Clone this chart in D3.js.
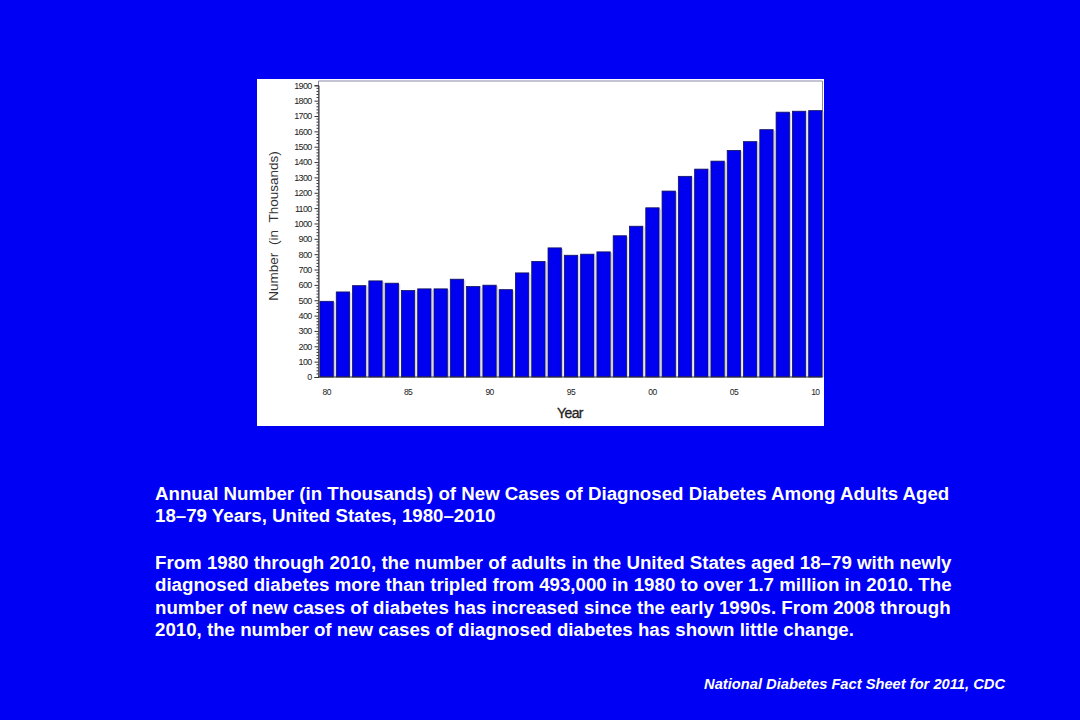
<!DOCTYPE html>
<html>
<head>
<meta charset="utf-8">
<script src="https://cdn.jsdelivr.net/npm/d3@7"></script>
<style>
  html, body { margin: 0; padding: 0; background: #0000f5; }
  svg { display: block; }
</style>
</head>
<body>
<div id="chart"></div>
<script>
// data (thousands of new cases)
const years = d3.range(1980, 2011);
const cases = [493, 554, 595, 626, 611, 563, 574, 574, 637, 589, 598, 569, 678, 753,
  841, 793, 800, 815, 920, 982, 1102, 1211, 1307, 1354, 1406, 1476, 1533, 1611,
  1725, 1731, 1735];
const yTicks = d3.range(0, 2000, 100);
const yMinor = d3.range(0, 1920, 20);
const xLabelYears = [1980, 1985, 1990, 1995, 2000, 2005, 2010];

const titleLines = [
  "Annual Number (in Thousands) of New Cases of Diagnosed Diabetes Among Adults Aged",
  "18\u201379 Years, United States, 1980\u20132010"
];
const bodyLines = [
  "From 1980 through 2010, the number of adults in the United States aged 18\u201379 with newly",
  "diagnosed diabetes more than tripled from 493,000 in 1980 to over 1.7 million in 2010. The",
  "number of new cases of diabetes has increased since the early 1990s. From 2008 through",
  "2010, the number of new cases of diagnosed diabetes has shown little change."
];
const source = "National Diabetes Fact Sheet for 2011, CDC";

const width = 1080, height = 720;

const svg = d3.select("#chart")
  .append("svg")
  .attr("width", width)
  .attr("height", height);

// slide background
svg.append("rect")
  .attr("width", width)
  .attr("height", height)
  .attr("fill", "#0000f5");

// white picture box
svg.append("rect")
  .attr("x", 257)
  .attr("y", 79)
  .attr("width", 567)
  .attr("height", 347)
  .attr("fill", "#ffffff");

// scales
const x = d3.scaleBand()
  .domain(years)
  .range([318.5, 823.5])
  .paddingInner(0.18)
  .paddingOuter(0.09);

const y = d3.scaleLinear()
  .domain([0, 1900])
  .range([377, 85.3]);

// plot frame (top and right)
svg.append("path")
  .attr("d", `M318.5,${y(0)}V81H822.5V${y(0)}`)
  .attr("fill", "none")
  .attr("stroke", "#8888aa")
  .attr("stroke-width", 1);

// bars
svg.selectAll(".bar")
  .data(years)
  .enter()
  .append("rect")
  .attr("class", "bar")
  .attr("x", d => x(d))
  .attr("y", (d, i) => y(cases[i]))
  .attr("width", x.bandwidth())
  .attr("height", (d, i) => y(0) - y(cases[i]))
  .attr("fill", "#0000f0")
  .attr("stroke", "#10105a")
  .attr("stroke-width", 0.8);

// light shadow to the right of each bar
svg.selectAll(".shade")
  .data(years)
  .enter()
  .append("line")
  .attr("class", "shade")
  .attr("x1", d => x(d) + x.bandwidth() + 1.2)
  .attr("x2", d => x(d) + x.bandwidth() + 1.2)
  .attr("y1", (d, i) => y(cases[i]) + 1)
  .attr("y2", y(0))
  .attr("stroke", "#c8c8d8")
  .attr("stroke-width", 1);

// y axis
const yAxis = svg.append("g")
  .attr("transform", "translate(318.5,0)")
  .call(d3.axisLeft(y).tickValues(yTicks).tickSize(4).tickPadding(3).tickFormat(d3.format("d")));

yAxis.select(".domain").attr("stroke", "#333");
yAxis.selectAll(".tick line").attr("stroke", "#333");
yAxis.selectAll(".tick text")
  .attr("font-family", "Liberation Sans, Arial, sans-serif")
  .attr("font-size", 9)
  .attr("letter-spacing", -0.7)
  .attr("fill", "#222");

svg.append("g")
  .attr("transform", "translate(318.5,0)")
  .selectAll("line")
  .data(yMinor.filter(d => d % 100 !== 0))
  .enter()
  .append("line")
  .attr("x1", -2)
  .attr("x2", 0)
  .attr("y1", d => y(d))
  .attr("y2", d => y(d))
  .attr("stroke", "#333");

// x axis line
svg.append("line")
  .attr("x1", 318.5)
  .attr("x2", 822.5)
  .attr("y1", y(0))
  .attr("y2", y(0))
  .attr("stroke", "#333");

// x labels under bar centres
svg.selectAll(".xlab")
  .data(xLabelYears)
  .enter()
  .append("text")
  .attr("class", "xlab")
  .attr("x", d => x(d) + x.bandwidth() / 2)
  .attr("y", 395)
  .attr("text-anchor", "middle")
  .attr("font-family", "Liberation Sans, Arial, sans-serif")
  .attr("font-size", 8.5)
  .attr("letter-spacing", -0.6)
  .attr("fill", "#222")
  .text(d => String(d).slice(2));

// axis titles
svg.append("text")
  .attr("x", 570)
  .attr("y", 418)
  .attr("text-anchor", "middle")
  .attr("font-family", "Liberation Sans, Arial, sans-serif")
  .attr("font-size", 14)
  .attr("letter-spacing", -0.6)
  .attr("fill", "#222")
  .attr("stroke", "#222")
  .attr("stroke-width", 0.3)
  .text("Year");

svg.append("text")
  .attr("transform", "translate(278,226) rotate(-90)")
  .attr("text-anchor", "middle")
  .attr("font-family", "Liberation Sans, Arial, sans-serif")
  .attr("font-size", 13.5)
  .attr("word-spacing", 4)
  .attr("fill", "#333")
  .text("Number (in Thousands)");

// slide text
const textFont = "Liberation Sans, Arial, Helvetica, sans-serif";

svg.selectAll(".title")
  .data(titleLines)
  .enter()
  .append("text")
  .attr("class", "title")
  .attr("x", 155)
  .attr("y", (d, i) => 500 + i * 22.3)
  .attr("font-family", textFont)
  .attr("font-weight", "bold")
  .attr("font-size", 18.7)
  .attr("fill", "#ffffff")
  .text(d => d);

svg.selectAll(".body")
  .data(bodyLines)
  .enter()
  .append("text")
  .attr("class", "body")
  .attr("x", 155)
  .attr("y", (d, i) => 569 + i * 22.3)
  .attr("font-family", textFont)
  .attr("font-weight", "bold")
  .attr("font-size", 18.7)
  .attr("fill", "#ffffff")
  .text(d => d);

svg.append("text")
  .attr("x", 1005)
  .attr("y", 689)
  .attr("text-anchor", "end")
  .attr("font-family", textFont)
  .attr("font-weight", "bold")
  .attr("font-style", "italic")
  .attr("font-size", 14.7)
  .attr("fill", "#ffffff")
  .text(source);
</script>
</body>
</html>
